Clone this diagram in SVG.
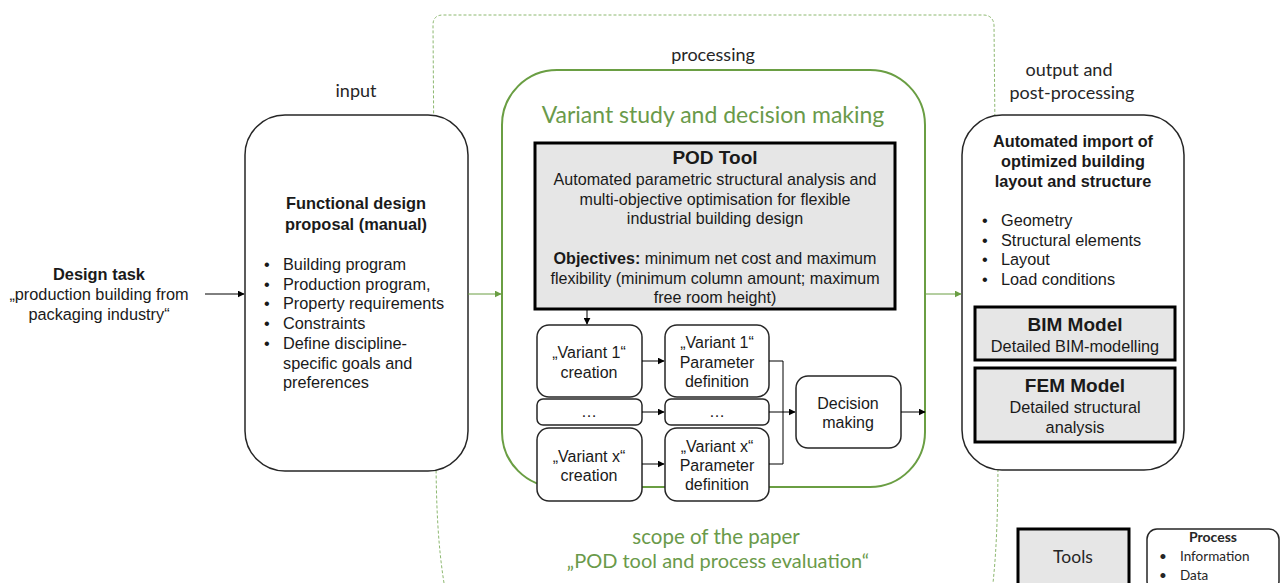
<svg xmlns="http://www.w3.org/2000/svg" width="1280" height="583" viewBox="0 0 1280 583">
  <defs>
    <marker id="arrowBlack" viewBox="0 0 10 10" refX="9" refY="5" markerWidth="7" markerHeight="7" markerUnits="userSpaceOnUse" orient="auto">
      <path d="M0,0 L10,5 L0,10 z" fill="#000"/>
    </marker>
    <marker id="arrowGreen" viewBox="0 0 10 10" refX="9" refY="5" markerWidth="7" markerHeight="7" markerUnits="userSpaceOnUse" orient="auto">
      <path d="M0,0 L10,5 L0,10 z" fill="#6A9E43"/>
    </marker>
  </defs>
  <style>
    .sans { font-family: "Liberation Sans", Arial, sans-serif; fill: #1a1a1a; }
    .cal { font-family: Lato, "Open Sans", sans-serif; fill: #262626; }
    .green { fill: #6A9A4A; }
    .bold { font-weight: bold; }
    .box { fill: #fff; stroke: #262626; stroke-width: 1.5; }
    .tool { fill: #E6E6E6; stroke: #000; stroke-width: 3; }
    .conn { fill: none; stroke: #000; stroke-width: 1; }
    .gconn { fill: none; stroke: #6A9E43; stroke-width: 1; }
  </style>

  <rect width="1280" height="583" fill="#fff"/>

  <!-- dashed boundary of the processing stage -->
  <path d="M444,583 C438,545 436,505 436,450 L433,25 Q433,15 443,15 L983,15 Q993,15 994,25 L998,450 C998,505 997,545 993,583"
        fill="none" stroke="#8DB870" stroke-width="1" stroke-dasharray="3,2"/>

  <!-- stage labels -->
  <text class="cal" x="356" y="97" font-size="18" text-anchor="middle">input</text>
  <text class="cal" x="713" y="61" font-size="18" text-anchor="middle">processing</text>
  <text class="cal" x="1069" y="76" font-size="18" text-anchor="middle">output and</text>
  <text class="cal" x="1072" y="99" font-size="18" text-anchor="middle">post-processing</text>

  <!-- design task -->
  <g id="design-task">
    <text class="sans bold" x="99" y="280" font-size="16.4" text-anchor="middle">Design task</text>
    <text class="sans" x="99" y="300" font-size="16.3" text-anchor="middle">„production building from</text>
    <text class="sans" x="99" y="320" font-size="16.3" text-anchor="middle">packaging industry“</text>
  </g>

  <!-- input: functional design proposal -->
  <g id="functional-design">
    <rect class="box" x="245" y="115" width="223" height="356" rx="40"/>
    <text class="sans bold" x="356" y="209" font-size="16.4" text-anchor="middle">Functional design</text>
    <text class="sans bold" x="356" y="230" font-size="16.4" text-anchor="middle">proposal (manual)</text>
    <g class="sans" font-size="16.3">
      <text x="264" y="270">•</text><text x="283" y="270">Building program</text>
      <text x="264" y="290">•</text><text x="283" y="290">Production program,</text>
      <text x="264" y="309">•</text><text x="283" y="309">Property requirements</text>
      <text x="264" y="329">•</text><text x="283" y="329">Constraints</text>
      <text x="264" y="349">•</text><text x="283" y="349">Define discipline-</text>
      <text x="283" y="369">specific goals and</text>
      <text x="283" y="388">preferences</text>
    </g>
  </g>

  <!-- processing: variant study -->
  <g id="variant-study">
    <rect x="502" y="70" width="423" height="417" rx="55" fill="#fff" stroke="#6A9E43" stroke-width="2"/>
    <text class="cal green" x="713" y="123" font-size="23" text-anchor="middle">Variant study and decision making</text>
  </g>

  <g id="pod-tool">
    <rect class="tool" x="535" y="143" width="360" height="166"/>
    <text class="sans bold" x="715" y="164" font-size="19" text-anchor="middle">POD Tool</text>
    <g class="sans" font-size="16.1" text-anchor="middle">
      <text x="715" y="185">Automated parametric structural analysis and</text>
      <text x="715" y="205">multi-objective optimisation for flexible</text>
      <text x="715" y="224">industrial building design</text>
      <text x="715" y="264"><tspan font-weight="bold">Objectives:</tspan> minimum net cost and maximum</text>
      <text x="715" y="284">flexibility (minimum column amount; maximum</text>
      <text x="715" y="303">free room height)</text>
    </g>
  </g>

  <g id="variant-1-creation">
    <rect class="box" x="537" y="325" width="105" height="72" rx="12"/>
    <text class="sans" x="589" y="358" font-size="16" text-anchor="middle">„Variant 1“</text>
    <text class="sans" x="589" y="378" font-size="16" text-anchor="middle">creation</text>
  </g>
  <g id="variant-1-parameters">
    <rect class="box" x="665" y="325" width="104" height="72" rx="12"/>
    <text class="sans" x="717" y="348" font-size="16" text-anchor="middle">„Variant 1“</text>
    <text class="sans" x="717" y="368" font-size="16" text-anchor="middle">Parameter</text>
    <text class="sans" x="717" y="387" font-size="16" text-anchor="middle">definition</text>
  </g>
  <g id="variant-n-creation">
    <rect class="box" x="537" y="399" width="105" height="26" rx="6"/>
    <text class="sans" x="589" y="417" font-size="16" text-anchor="middle">…</text>
  </g>
  <g id="variant-n-parameters">
    <rect class="box" x="665" y="399" width="104" height="26" rx="6"/>
    <text class="sans" x="717" y="417" font-size="16" text-anchor="middle">…</text>
  </g>
  <g id="variant-x-creation">
    <rect class="box" x="537" y="428" width="105" height="73" rx="12"/>
    <text class="sans" x="589" y="462" font-size="16" text-anchor="middle">„Variant x“</text>
    <text class="sans" x="589" y="481" font-size="16" text-anchor="middle">creation</text>
  </g>
  <g id="variant-x-parameters">
    <rect class="box" x="665" y="428" width="104" height="73" rx="12"/>
    <text class="sans" x="717" y="452" font-size="16" text-anchor="middle">„Variant x“</text>
    <text class="sans" x="717" y="471" font-size="16" text-anchor="middle">Parameter</text>
    <text class="sans" x="717" y="490" font-size="16" text-anchor="middle">definition</text>
  </g>
  <g id="decision-making">
    <rect class="box" x="796" y="376" width="105" height="72" rx="12"/>
    <text class="sans" x="848" y="409" font-size="16" text-anchor="middle">Decision</text>
    <text class="sans" x="848" y="428" font-size="16" text-anchor="middle">making</text>
  </g>

  <text class="cal green" x="716" y="544" font-size="20.5" text-anchor="middle">scope of the paper</text>
  <text class="cal green" x="718" y="568" font-size="20" text-anchor="middle">„POD tool and process evaluation“</text>

  <!-- output box -->
  <g id="automated-import">
    <rect class="box" x="962" y="115" width="222" height="355" rx="40"/>
    <text class="sans bold" x="1073" y="147" font-size="16.3" text-anchor="middle">Automated import of</text>
    <text class="sans bold" x="1073" y="167" font-size="16.3" text-anchor="middle">optimized building</text>
    <text class="sans bold" x="1073" y="187" font-size="16.3" text-anchor="middle">layout and structure</text>
    <g class="sans" font-size="16.3">
      <text x="982" y="226">•</text><text x="1001" y="226">Geometry</text>
      <text x="982" y="246">•</text><text x="1001" y="246">Structural elements</text>
      <text x="982" y="265">•</text><text x="1001" y="265">Layout</text>
      <text x="982" y="285">•</text><text x="1001" y="285">Load conditions</text>
    </g>
  </g>
  <g id="bim-model">
    <rect class="tool" x="975" y="307" width="200" height="53"/>
    <text class="sans bold" x="1075" y="331" font-size="19" text-anchor="middle">BIM Model</text>
    <text class="sans" x="1075" y="352" font-size="16.3" text-anchor="middle">Detailed BIM-modelling</text>
  </g>
  <g id="fem-model">
    <rect class="tool" x="975" y="368" width="200" height="74"/>
    <text class="sans bold" x="1075" y="392" font-size="19" text-anchor="middle">FEM Model</text>
    <text class="sans" x="1075" y="413" font-size="16.3" text-anchor="middle">Detailed structural</text>
    <text class="sans" x="1075" y="433" font-size="16.3" text-anchor="middle">analysis</text>
  </g>

  <!-- legend -->
  <g id="legend-tools">
    <rect class="tool" x="1018" y="529" width="111" height="60"/>
    <text class="cal" x="1073" y="563" font-size="17.5" text-anchor="middle">Tools</text>
  </g>
  <g id="legend-process">
    <rect class="box" x="1147" y="529" width="132" height="62" rx="10"/>
    <text class="cal bold" x="1213" y="542" font-size="14" text-anchor="middle">Process</text>
    <text class="cal" x="1159" y="561" font-size="13.5">•</text>
    <text class="cal" x="1180" y="561" font-size="13.5">Information</text>
    <text class="cal" x="1159" y="580" font-size="13.5">•</text>
    <text class="cal" x="1180" y="580" font-size="13.5">Data</text>
  </g>

  <!-- connectors -->
  <g id="connectors">
    <line class="conn" x1="205" y1="294" x2="244" y2="294" marker-end="url(#arrowBlack)"/>
    <line class="gconn" x1="468" y1="294" x2="501" y2="294" marker-end="url(#arrowGreen)"/>
    <line class="gconn" x1="926" y1="294" x2="961" y2="294" marker-end="url(#arrowGreen)"/>
    <line class="conn" x1="587" y1="310" x2="587" y2="324" marker-end="url(#arrowBlack)"/>
    <line class="conn" x1="642" y1="361" x2="664" y2="361" marker-end="url(#arrowBlack)"/>
    <line class="conn" x1="642" y1="412" x2="664" y2="412" marker-end="url(#arrowBlack)"/>
    <line class="conn" x1="642" y1="464" x2="664" y2="464" marker-end="url(#arrowBlack)"/>
    <path class="conn" d="M769,361 H783 V464 H769"/>
    <line class="conn" x1="769" y1="412" x2="795" y2="412" marker-end="url(#arrowBlack)"/>
    <line class="conn" x1="901" y1="412" x2="925" y2="412" marker-end="url(#arrowBlack)"/>
  </g>
</svg>
